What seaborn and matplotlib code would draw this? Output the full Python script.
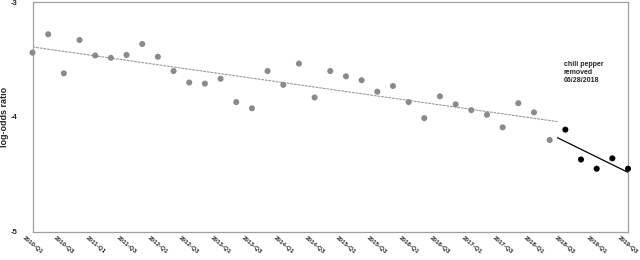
import numpy as np
import pandas as pd
import matplotlib
matplotlib.use('Agg')
import matplotlib.pyplot as plt
import matplotlib.transforms as mtransforms
import seaborn as sns

# quarters 2010-Q1 .. 2019-Q3
quarters = ['%d-Q%d' % (y, q) for y in range(2010, 2020) for q in range(1, 5)][:39]

# log-odds before removal (2010-Q1 .. 2018-Q2)
before = [-3.44, -3.28, -3.62, -3.33, -3.465, -3.485, -3.46, -3.365, -3.476, -3.60,
          -3.70, -3.71, -3.667, -3.87, -3.924, -3.60, -3.72, -3.535, -3.83, -3.60,
          -3.646, -3.68, -3.78, -3.73, -3.87, -4.01, -3.82, -3.89, -3.94, -3.98,
          -4.09, -3.88, -3.96, -4.20]
# after removal (2018-Q3 .. 2019-Q3)
after = [-4.11, -4.37, -4.45, -4.36, -4.45]

removal_x = 33.5  # 06/28/2018, between 2018-Q2 and 2018-Q3
note = 'chili pepper\nremoved\n06/28/2018'

df = pd.DataFrame({
    'idx': np.arange(len(before) + len(after)),
    'value': before + after,
    'period': ['before'] * len(before) + ['after'] * len(after),
})

sns.set_style('white')
plt.rcParams['font.family'] = ['Liberation Sans', 'DejaVu Sans']
plt.rcParams['font.weight'] = 'bold'

fig = plt.figure(figsize=(6.4, 2.6), dpi=100)
ax = fig.add_axes([0.0508, 0.108, 0.9305, 0.884])

sns.scatterplot(data=df, x='idx', y='value', hue='period',
                palette={'before': '#8a8a8a', 'after': '#000000'},
                s=19, linewidth=0, legend=False, clip_on=False, ax=ax, zorder=3)

# linear trend for each period, meeting at the removal date
b = df[df.period == 'before']
a = df[df.period == 'after']
kb = np.polyfit(b.idx, b.value, 1)
ka = np.polyfit(a.idx, a.value, 1)
xb = np.array([0, removal_x])
xa = np.array([removal_x, len(quarters) - 1])
ax.plot(xb, np.polyval(kb, xb), color='#9a9a9a', lw=0.8, dashes=(2.5, 0.8))
ax.plot(xa, np.polyval(ka, xa), color='black', lw=0.9)

ax.text(33.9, -3.515, note, fontsize=5, fontweight='bold', va='top', ha='left')

ax.set_xlim(0, len(quarters) - 1)
ax.set_ylim(-5, -3)
ax.set_yticks([-3, -4, -5])
ax.set_yticklabels(['-3', '-4', '-5'], fontsize=5.5, fontweight='bold')
ax.set_xticks(np.arange(0, len(quarters), 2))
ax.set_xticklabels(quarters[::2], fontsize=4.5, fontweight='bold', rotation=-40,
                   ha='center', va='top')
off = mtransforms.ScaledTranslation(3 / 100, -2 / 100, fig.dpi_scale_trans)
for lab in ax.get_xticklabels():
    lab.set_transform(lab.get_transform() + off)
ax.tick_params(axis='y', length=0, pad=11)
ax.tick_params(axis='x', length=0, pad=2)
ax.set_xlabel('')
ax.set_ylabel('log-odds ratio', fontsize=6.5, fontweight='bold')
ax.yaxis.set_label_coords(-0.04, 0.5)

for sp in ax.spines.values():
    sp.set_color('#a0a0a0')
    sp.set_linewidth(0.9)

fig.savefig('out.png', dpi=100)
